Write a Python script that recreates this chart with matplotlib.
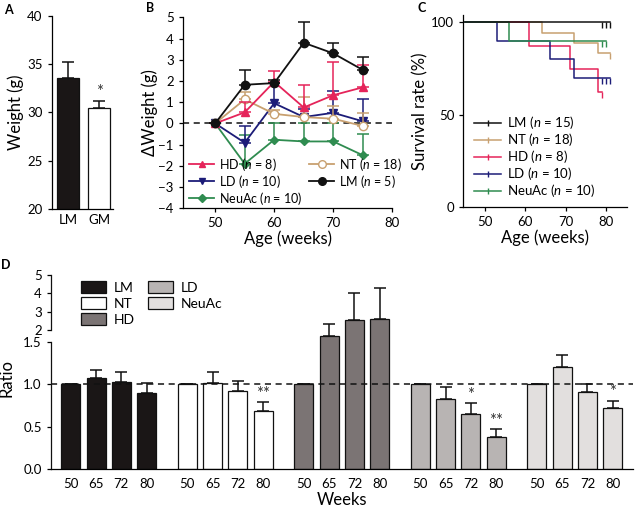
import numpy as np
import matplotlib
matplotlib.use('Agg')
import matplotlib.pyplot as plt
from matplotlib.lines import Line2D

plt.rcParams['font.family'] = ['Lato', 'DejaVu Sans']
plt.rcParams['mathtext.fontset'] = 'custom'
plt.rcParams['mathtext.it'] = 'Lato:italic'
plt.rcParams['mathtext.rm'] = 'Lato'
plt.rcParams['axes.linewidth'] = 0.9
plt.rcParams['xtick.major.width'] = 0.9
plt.rcParams['ytick.major.width'] = 0.9
plt.rcParams['xtick.major.size'] = 3
plt.rcParams['ytick.major.size'] = 3
plt.rcParams['xtick.labelsize'] = 9.5
plt.rcParams['ytick.labelsize'] = 9.5
LABEL_FS = 12
LEG_FS = 9

# ---------------- data ----------------
# Panel A
a_groups = ['LM', 'GM']
a_mean = [33.6, 30.5]
a_err = [1.6, 0.7]
a_colors = ['#1a1616', 'white']

# Panel B
b_weeks = [50, 55, 60, 65, 70, 75]
b_hd = [0, 0.52, 1.96, 0.75, 1.33, 1.70]
b_hd_err = [0, 0.5, 0.5, 1.05, 1.55, 1.05]
b_ld = [0, -0.91, 0.95, 0.30, 0.50, 0.10]
b_ld_err = [0, 0.78, 0.95, 0.4, 1.05, 1.05]
b_neu = [0, -1.90, -0.77, -0.85, -0.85, -1.50]
b_neu_err = [0, 1.35, 0.8, 0.85, 0.85, 1.0]
b_nt = [0, 1.13, 0.45, 0.30, 0.22, -0.12]
b_nt_err = [0, 0.35, 0.2, 0.95, 0.6, 0.6]
b_lm = [0, 1.82, 1.90, 3.80, 3.30, 2.52]
b_lm_err = [0, 0.68, 0.15, 0.98, 0.50, 0.62]

# Panel C (Kaplan-Meier steps)
c_lm_t = [45, 81]; c_lm_s = [100, 100]; c_lm_cens = [79, 80, 81]
c_nt_t = [45, 64, 72, 78, 81]; c_nt_s = [100, 94.4, 88.9, 83.3, 83.3]; c_nt_cens = [81]
c_hd_t = [45, 61, 71, 78, 79]; c_hd_s = [100, 87.5, 75, 62.5, 62.5]; c_hd_cens = [79]
c_ld_t = [45, 53, 66, 72, 81]; c_ld_s = [100, 90, 80, 70, 70]; c_ld_cens = [79, 80, 81]
c_neu_t = [45, 56, 80]; c_neu_s = [100, 90, 90]; c_neu_cens = [79, 80]

# Panel D
d_weeks = ['50', '65', '72', '80']
d_groups = ['LM', 'NT', 'HD', 'LD', 'NeuAc']
d_vals = {
    'LM': [1.0, 1.08, 1.03, 0.90],
    'NT': [1.0, 1.02, 0.92, 0.69],
    'HD': [1.0, 1.75, 2.54, 2.59],
    'LD': [1.0, 0.83, 0.65, 0.38],
    'NeuAc': [1.0, 1.20, 0.91, 0.72],
}
d_errs = {
    'LM': [0, 0.09, 0.12, 0.12],
    'NT': [0, 0.13, 0.12, 0.10],
    'HD': [0, 0.56, 1.44, 1.70],
    'LD': [0, 0.14, 0.13, 0.09],
    'NeuAc': [0, 0.15, 0.10, 0.09],
}
d_stars = {
    'NT': ['', '', '', '**'],
    'LD': ['', '', '*', '**'],
    'NeuAc': ['', '', '', '*'],
}
d_colors = {'LM': '#1a1616', 'NT': '#ffffff', 'HD': '#7b7474',
            'LD': '#b8b4b3', 'NeuAc': '#e2dfde'}

RED = '#e5245a'
NAVY = '#1c1c78'
GREEN = '#2f8c50'
TAN = '#c8a070'
BLACK = '#111111'

W, H = 640, 509
fig = plt.figure(figsize=(W / 100, H / 100), dpi=100)

def box(l, t, r, b):
    return [l / W, 1 - b / H, (r - l) / W, (b - t) / H]

def clean(ax):
    ax.spines['top'].set_visible(False)
    ax.spines['right'].set_visible(False)

# ---------------- Panel A ----------------
axA = fig.add_axes(box(51.7, 15.7, 113, 209))
clean(axA)
xa = np.arange(len(a_groups))
axA.bar(xa, a_mean, width=0.71, color=a_colors, edgecolor='#111111', linewidth=0.9,
        yerr=[np.zeros(len(a_err)), a_err], capsize=4,
        error_kw=dict(elinewidth=1.1, capthick=1.1, ecolor='#111111'))
axA.text(xa[1], a_mean[1] + a_err[1] + 0.1, '*', ha='center', va='bottom', fontsize=12, color='#333333')
axA.set_ylim(20, 40)
axA.set_xlim(-0.53, 1.45)
axA.set_yticks([20, 25, 30, 35, 40])
axA.set_xticks(xa)
axA.set_xticklabels(a_groups)
axA.tick_params(axis='x', length=0)
axA.set_ylabel('Weight (g)', fontsize=LABEL_FS, labelpad=2)

# ---------------- Panel B ----------------
axB = fig.add_axes(box(182.7, 17.3, 392.3, 208.3))
clean(axB)
axB.axhline(0, color='#111111', lw=1.1, ls=(0, (4, 3)), zorder=1)
series_b = [
    (b_neu, b_neu_err, GREEN, 'D', GREEN, 'NeuAc ($\\it{n}$ = 10)', 4.5),
    (b_ld, b_ld_err, NAVY, 'v', NAVY, 'LD ($\\it{n}$ = 10)', 5.5),
    (b_nt, b_nt_err, TAN, 'o', 'white', 'NT ($\\it{n}$ = 18)', 6),
    (b_hd, b_hd_err, RED, '^', RED, 'HD ($\\it{n}$ = 8)', 5.5),
    (b_lm, b_lm_err, BLACK, 'o', BLACK, 'LM ($\\it{n}$ = 5)', 6),
]
handles = {}
for i, (vals, errs, col, mk, fc, lab, ms) in enumerate(series_b):
    axB.errorbar(b_weeks, vals, yerr=[np.zeros(len(errs)), errs], color=col,
                 marker=mk, markerfacecolor=fc, markeredgecolor=col, markersize=ms,
                 lw=1.3, capsize=4, capthick=1.1, elinewidth=1.1, zorder=2 + i)
    handles[lab] = Line2D([], [], color=col, lw=1.3, marker=mk, markerfacecolor=fc,
                          markeredgecolor=col, markersize=ms - 0.5)
order = ['HD ($\\it{n}$ = 8)', 'LD ($\\it{n}$ = 10)', 'NeuAc ($\\it{n}$ = 10)',
         'NT ($\\it{n}$ = 18)', 'LM ($\\it{n}$ = 5)']
axB.legend([handles[k] for k in order], order, ncol=2, loc='lower left',
           bbox_to_anchor=(-0.005, -0.03), frameon=False, fontsize=LEG_FS,
           handlelength=2.0, handletextpad=0.4, columnspacing=0.5, labelspacing=0.0,
           borderaxespad=0.2)
axB.set_xlim(44.5, 80)
axB.set_ylim(-4, 5)
axB.set_xticks([50, 60, 70, 80])
axB.set_yticks(range(-4, 6))
axB.set_xlabel('Age (weeks)', fontsize=LABEL_FS, labelpad=1)
axB.set_ylabel('\u0394Weight (g)', fontsize=LABEL_FS, labelpad=0)

# ---------------- Panel C ----------------
axC = fig.add_axes(box(463.3, 15, 626.7, 207.3))
clean(axC)
series_c = [
    (c_nt_t, c_nt_s, c_nt_cens, TAN, 'NT ($\\it{n}$ = 18)'),
    (c_hd_t, c_hd_s, c_hd_cens, RED, 'HD ($\\it{n}$ = 8)'),
    (c_ld_t, c_ld_s, c_ld_cens, NAVY, 'LD ($\\it{n}$ = 10)'),
    (c_neu_t, c_neu_s, c_neu_cens, GREEN, 'NeuAc ($\\it{n}$ = 10)'),
    (c_lm_t, c_lm_s, c_lm_cens, BLACK, 'LM ($\\it{n}$ = 15)'),
]
for t, s, cens, col, lab in series_c:
    axC.step(t, s, where='post', color=col, lw=1.1)
    cs = [s[np.searchsorted(t, c, side='right') - 1] for c in cens]
    axC.plot(cens, cs, ls='none', marker=3, markersize=4, color=col, mew=1.0)
leg_c = [Line2D([], [], color=col, lw=1.1, marker='|', markersize=4, mew=1.0)
         for (_, _, _, col, _) in series_c]
leg_lab = [lab for (*_, lab) in series_c]
idx = [4, 0, 1, 2, 3]
axC.legend([leg_c[i] for i in idx], [leg_lab[i] for i in idx], loc='lower left',
           bbox_to_anchor=(0.02, 0.0), frameon=False, fontsize=9.5, handlelength=2.0,
           handletextpad=0.5, labelspacing=0.0, borderaxespad=0.2)
axC.set_xlim(44.7, 85)
axC.set_ylim(0, 104)
axC.set_xticks([50, 60, 70, 80])
axC.set_yticks([0, 50, 100])
axC.set_xlabel('Age (weeks)', fontsize=LABEL_FS, labelpad=1)
axC.set_ylabel('Survival rate (%)', fontsize=LABEL_FS, labelpad=2)

# ---------------- Panel D ----------------
seg_y = [0, 1.5, 2, 5]
seg_t = [0, 1.5, 1.5 + 12 / 85, 1.5 + 12 / 85 + 3 * 18.43 / 85]

def fwd(y):
    return np.interp(np.asarray(y, dtype=float), seg_y, seg_t)

def inv(v):
    return np.interp(np.asarray(v, dtype=float), seg_t, seg_y)

axD = fig.add_axes(box(50.7, 274.7, 633, 469.3))
axD.spines['top'].set_visible(False)
axD.spines['right'].set_visible(False)
axD.spines['left'].set_visible(False)
axD.set_yscale('function', functions=(fwd, inv))
axD.set_ylim(0, 5)

group_gap = 4.6
xs_all, xl_all = [], []
for g, name in enumerate(d_groups):
    xs = g * group_gap + np.arange(len(d_weeks))
    vals = d_vals[name]
    errs = d_errs[name]
    bars = axD.bar(xs, vals, width=0.75, color=d_colors[name], edgecolor='#111111',
                   linewidth=0.9, zorder=2,
                   yerr=[np.zeros(len(errs)), errs], capsize=4,
                   error_kw=dict(elinewidth=1.1, capthick=1.1, ecolor='#111111', zorder=3))
    bars.patches[0].set_label(name)
    for j, st in enumerate(d_stars.get(name, [])):
        if st:
            axD.text(xs[j], vals[j] + errs[j] + 0.005, st, ha='center', va='bottom',
                     fontsize=12, color='#333333')
    xs_all.extend(xs)
    xl_all.extend(d_weeks)

axD.axhline(1.0, color='#111111', lw=1.1, ls=(0, (4, 3)), zorder=4)
axD.set_xlim(-0.79, 22.2)
axD.set_xticks(xs_all)
axD.set_xticklabels(xl_all)
axD.tick_params(axis='x', length=0, pad=6)
yt = [0, 0.5, 1.0, 1.5, 2, 3, 4, 5]
axD.set_yticks(yt)
axD.set_yticklabels(['0.0', '0.5', '1.0', '1.5', '2', '3', '4', '5'])
axD.yaxis.set_minor_locator(matplotlib.ticker.NullLocator())
ytr = axD.get_yaxis_transform()
axD.plot([0, 0], [0, 1.5], transform=ytr, color='#111111', lw=0.9, clip_on=False)
axD.plot([0, 0], [2, 5], transform=ytr, color='#111111', lw=0.9, clip_on=False)
axD.set_xlabel('Weeks', fontsize=LABEL_FS, labelpad=2)
axD.set_ylabel('Ratio', fontsize=LABEL_FS)
axD.yaxis.set_label_coords(-0.062, 0.47)
axD.legend(loc='upper left', bbox_to_anchor=(0.03, 1.03), ncol=2, frameon=False,
           fontsize=10, handlelength=1.8, handleheight=0.9, handletextpad=0.6,
           columnspacing=0.9, labelspacing=0.25)

# panel letters
for lab, (x, y) in {'A': (8, 10), 'B': (150, 8), 'C': (422, 8), 'D': (6, 265)}.items():
    fig.text(x / W, 1 - y / H, lab, fontsize=9, fontweight='bold', ha='center', va='center')

fig.savefig('out.png', dpi=100)
